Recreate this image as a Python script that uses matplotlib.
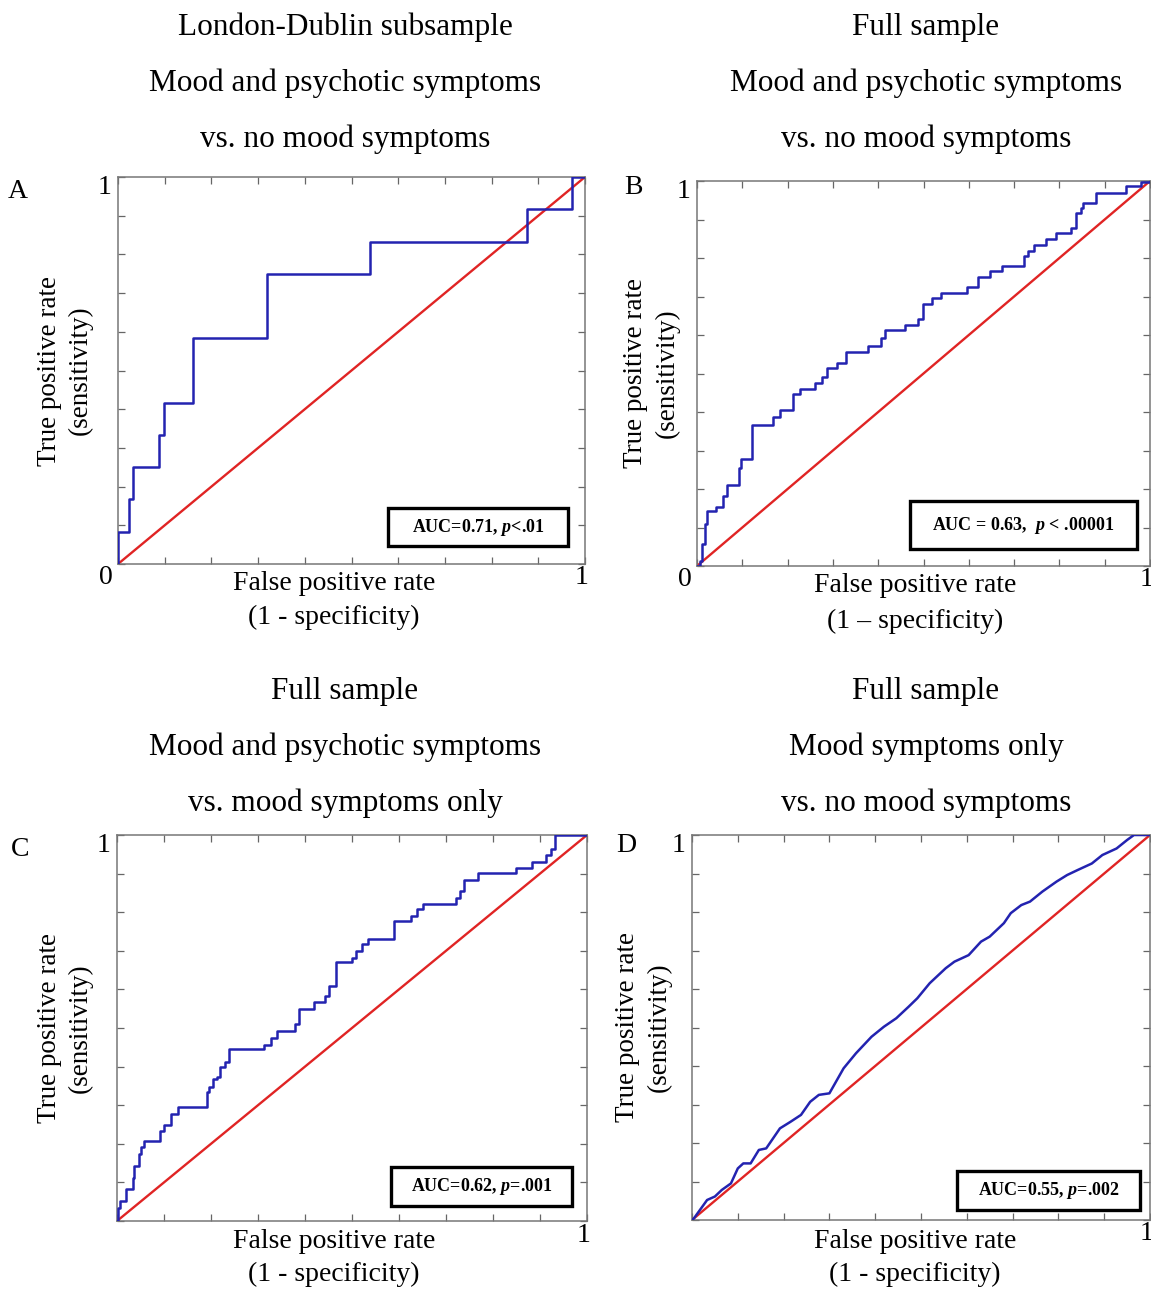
"""ROC curves, four panels."""
import matplotlib
matplotlib.use("Agg")
import matplotlib.pyplot as plt
import numpy as np

W, H = 1151, 1290

plt.rcParams["font.family"] = ["Liberation Serif", "DejaVu Serif"]
plt.rcParams["mathtext.fontset"] = "custom"
plt.rcParams["mathtext.it"] = "Liberation Serif:italic:bold"
plt.rcParams["mathtext.rm"] = "Liberation Serif:bold"

# panel A: London-Dublin subsample (ROC vertices)
fpr_a = [0.0, 0.0, 0.023, 0.023, 0.033, 0.033, 0.088, 0.088, 0.098, 0.098,
         0.161, 0.161, 0.318, 0.318, 0.540, 0.540, 0.876, 0.876, 0.973, 0.973, 1.0]
tpr_a = [0.0, 0.083, 0.083, 0.167, 0.167, 0.250, 0.250, 0.333, 0.333, 0.417,
         0.417, 0.583, 0.583, 0.750, 0.750, 0.833, 0.833, 0.917, 0.917, 1.0, 1.0]

# panel B: full sample, mood+psychotic vs no mood (step points)
fpr_b = [0.0, 0.006, 0.012, 0.018, 0.023, 0.041, 0.058, 0.067, 0.093, 0.097,
         0.122, 0.168, 0.184, 0.212, 0.227, 0.261, 0.277, 0.287, 0.308, 0.329,
         0.378, 0.407, 0.416, 0.460, 0.488, 0.498, 0.519, 0.539, 0.597, 0.620,
         0.647, 0.674, 0.721, 0.731, 0.744, 0.770, 0.793, 0.826, 0.837, 0.847,
         0.853, 0.880, 0.946, 0.981, 1.0]
tpr_b = [0.0, 0.013, 0.056, 0.108, 0.142, 0.153, 0.183, 0.211, 0.254, 0.278,
         0.366, 0.388, 0.405, 0.447, 0.459, 0.476, 0.490, 0.513, 0.528, 0.556,
         0.571, 0.591, 0.612, 0.625, 0.642, 0.681, 0.696, 0.709, 0.724, 0.750,
         0.767, 0.778, 0.806, 0.819, 0.834, 0.849, 0.865, 0.878, 0.918, 0.931,
         0.944, 0.970, 0.987, 0.998, 1.0]

# panel C: full sample, mood+psychotic vs mood only
fpr_c = [0.0, 0.002, 0.006, 0.020, 0.033, 0.037, 0.046, 0.051, 0.057, 0.092,
         0.100, 0.114, 0.130, 0.191, 0.195, 0.204, 0.212, 0.220, 0.230, 0.238,
         0.312, 0.328, 0.340, 0.379, 0.388, 0.419, 0.442, 0.450, 0.466, 0.499,
         0.509, 0.521, 0.533, 0.590, 0.625, 0.639, 0.651, 0.721, 0.729, 0.738,
         0.768, 0.849, 0.883, 0.912, 0.924, 0.931, 1.0]
tpr_c = [0.0, 0.034, 0.052, 0.082, 0.112, 0.142, 0.173, 0.193, 0.206, 0.232,
         0.249, 0.276, 0.296, 0.335, 0.348, 0.369, 0.373, 0.399, 0.412, 0.446,
         0.457, 0.474, 0.491, 0.511, 0.549, 0.567, 0.584, 0.609, 0.670, 0.682,
         0.700, 0.717, 0.731, 0.777, 0.791, 0.807, 0.822, 0.837, 0.854, 0.884,
         0.901, 0.914, 0.929, 0.948, 0.963, 1.0, 1.0]

# panel D: full sample, mood only vs no mood
fpr_d = [0.0, 0.004, 0.033, 0.050, 0.065, 0.085, 0.100, 0.112, 0.128, 0.146,
         0.162, 0.192, 0.215, 0.238, 0.258, 0.277, 0.300, 0.331, 0.358, 0.392,
         0.419, 0.446, 0.473, 0.492, 0.519, 0.554, 0.573, 0.604, 0.631, 0.650,
         0.681, 0.696, 0.719, 0.738, 0.765, 0.796, 0.819, 0.842, 0.873, 0.896,
         0.927, 0.950, 0.965, 1.0]
tpr_d = [0.0, 0.004, 0.052, 0.061, 0.078, 0.095, 0.134, 0.147, 0.147, 0.182,
         0.186, 0.238, 0.255, 0.273, 0.307, 0.325, 0.329, 0.394, 0.433, 0.476,
         0.502, 0.524, 0.554, 0.576, 0.615, 0.654, 0.671, 0.688, 0.723, 0.736,
         0.771, 0.797, 0.818, 0.827, 0.853, 0.879, 0.896, 0.909, 0.926, 0.948,
         0.965, 0.987, 1.0, 1.0]

titles = [
    ["London-Dublin subsample", "Mood and psychotic symptoms", "vs. no mood symptoms"],
    ["Full sample", "Mood and psychotic symptoms", "vs. no mood symptoms"],
    ["Full sample", "Mood and psychotic symptoms", "vs. mood symptoms only"],
    ["Full sample", "Mood symptoms only", "vs. no mood symptoms"],
]
auc_labels = [
    r"AUC=0.71, $\mathit{p}$<.01",
    r"AUC = 0.63,  $\mathit{p}$ < .00001",
    r"AUC=0.62, $\mathit{p}$=.001",
    r"AUC=0.55, $\mathit{p}$=.002",
]
spec_labels = ["(1 - specificity)", "(1 \u2013 specificity)",
               "(1 - specificity)", "(1 - specificity)"]
letters = ["A", "B", "C", "D"]

# pixel boxes: left, top, right, bottom
boxes = [(118, 177, 585, 564), (697, 181, 1150, 566),
         (117, 835, 587, 1221), (692, 835, 1150, 1220)]
auc_boxes = [(388, 508, 568, 546), (910, 501, 1137, 549),
             (391, 1167, 572, 1206), (957, 1171, 1140, 1210)]
letter_pos = [(18, 192), (633, 188), (20, 849), (626, 846)]
ylab_x = [(50, 80), (635, 667), (50, 80), (627, 659)]
xlab_y = [(583, 617), (586, 621), (1241, 1274), (1241, 1274)]
xlab_x = [334, 915, 334, 915]
title_y = [(27, 83, 139), (27, 83, 139), (691, 747, 803), (691, 747, 803)]
title_x = [345, 926, 345, 926]


def fx(px):
    return px / W


def fy(py):
    return 1 - py / H


fig = plt.figure(figsize=(W / 100, H / 100), dpi=100)

curves = [(fpr_a, tpr_a, "default"), (fpr_b, tpr_b, "steps-post"),
          (fpr_c, tpr_c, "steps-post"), (fpr_d, tpr_d, "default")]

for i, (l, t, r, b) in enumerate(boxes):
    ax = fig.add_axes([fx(l), fy(b), fx(r) - fx(l), (b - t) / H])
    xs, ys, ds = curves[i]
    ax.plot([0, 1], [0, 1], color="#e02424", lw=1.7, zorder=2)
    ax.plot(xs, ys, color="#2323b0", lw=1.8, drawstyle=ds, zorder=3)
    ax.set_xlim(0, 1)
    ax.set_ylim(0, 1)
    ax.set_xticks(np.linspace(0, 1, 11))
    ax.set_yticks(np.linspace(0, 1, 11))
    ax.set_xticklabels([])
    ax.set_yticklabels([])
    ax.tick_params(direction="in", length=5, width=0.9, color="#666666",
                   top=True, right=True)
    for s in ax.spines.values():
        s.set_color("#777777")
        s.set_linewidth(1.1)

    # axis labels
    yl1, yl2 = ylab_x[i]
    fig.text(fx(yl1), fy((t + b) / 2), "True positive rate", rotation=90,
             ha="center", va="center", fontsize=19.5)
    fig.text(fx(yl2), fy((t + b) / 2), "(sensitivity)", rotation=90,
             ha="center", va="center", fontsize=19.5)
    fig.text(fx(xlab_x[i]), fy(xlab_y[i][0]), "False positive rate",
             ha="center", va="center", fontsize=20)
    fig.text(fx(xlab_x[i]), fy(xlab_y[i][1]), spec_labels[i], ha="center",
             va="center", fontsize=20)

    # corner labels
    fig.text(fx(l - 13), fy(t + 11), "1", ha="center", va="center", fontsize=20)
    fig.text(fx(r - 3), fy(b + 14), "1", ha="center", va="center", fontsize=20)
    if i < 2:
        fig.text(fx(l - 12), fy(b + 13), "0", ha="center", va="center", fontsize=20)
    fig.text(fx(letter_pos[i][0]), fy(letter_pos[i][1]), letters[i],
             ha="center", va="center", fontsize=20)

    # AUC box
    bl, bt, br, bb = auc_boxes[i]
    ax.add_patch(plt.Rectangle(((bl - l) / (r - l), (b - bb) / (b - t)),
                               (br - bl) / (r - l), (bb - bt) / (b - t),
                               transform=ax.transAxes, fill=True,
                               facecolor="white", edgecolor="black", lw=2.4,
                               zorder=4))
    ax.text(((bl + br) / 2 - l) / (r - l), (b - (bt + bb) / 2) / (b - t),
            auc_labels[i], ha="center", va="center", fontsize=13,
            fontweight="bold", transform=ax.transAxes, zorder=5)

    for line, yy in zip(titles[i], title_y[i]):
        fig.text(fx(title_x[i]), fy(yy), line, ha="center", va="center",
                 fontsize=22.5)

fig.savefig("out.png", dpi=100)
